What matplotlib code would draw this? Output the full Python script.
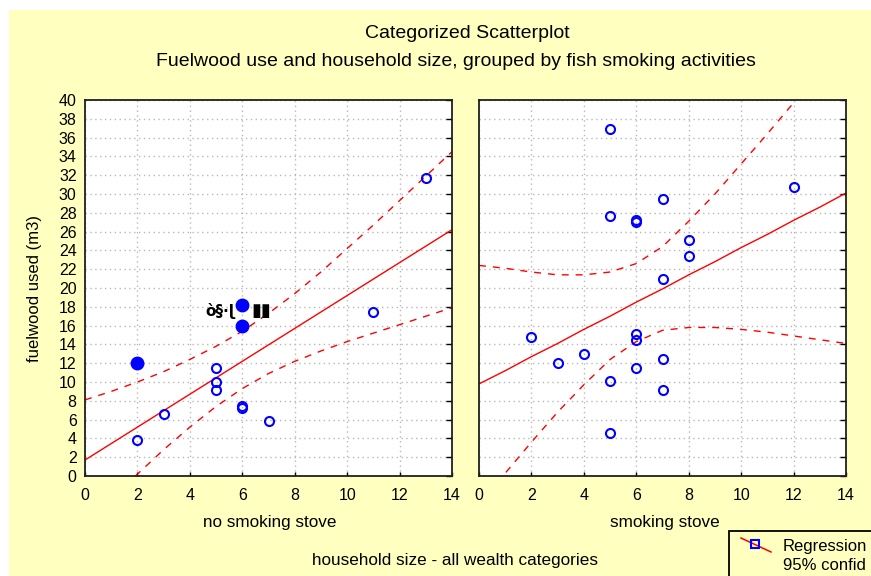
#!/usr/bin/env python3
"""Categorized scatterplot: fuelwood use vs household size, split by
whether the household has a fish smoking stove. Each panel carries its
regression line and 95% confidence band."""
import matplotlib
matplotlib.use("Agg")
import matplotlib.pyplot as plt
from matplotlib.patches import Rectangle
from matplotlib.lines import Line2D

plt.rcParams["font.family"] = ["Liberation Sans", "DejaVu Sans"]

# households without a smoking stove
NO_STOVE_X = [2, 3, 5, 5, 5, 6, 6, 7, 11, 13]
NO_STOVE_Y = [3.8, 6.6, 11.5, 10.0, 9.2, 7.5, 7.2, 5.8, 17.5, 31.7]
# highlighted households in the same group
NO_STOVE_MARK_X = [2, 6, 6]
NO_STOVE_MARK_Y = [12.0, 18.2, 16.0]

# households with a smoking stove
STOVE_X = [5, 7, 12, 5, 6, 6, 8, 8, 7, 2, 6, 6, 4, 3, 7, 6, 5, 7, 5]
STOVE_Y = [36.9, 29.5, 30.7, 27.7, 27.2, 27.0, 25.1, 23.4, 21.0, 14.8,
           15.1, 14.5, 13.0, 12.0, 12.5, 11.5, 10.1, 9.2, 4.6]

# fitted line and 95% band, sampled at each household size
FIT_X = [0, 1, 2, 3, 4, 5, 6, 7, 8, 9, 10, 11, 12, 13, 14]
NO_STOVE_FIT = [1.7, 3.45, 5.2, 6.95, 8.7, 10.45, 12.2, 13.95, 15.7, 17.45,
                19.2, 20.95, 22.7, 24.45, 26.2]
NO_STOVE_UPPER = [8.1, 9.0, 10.0, 11.1, 12.4, 13.8, 15.4, 17.3, 19.4, 21.7,
                  24.2, 26.7, 29.3, 31.9, 34.5]
NO_STOVE_LOWER = [-5.1, -2.4, 0.2, 2.8, 5.2, 7.4, 9.3, 10.9, 12.2, 13.3,
                  14.3, 15.2, 16.1, 17.0, 17.9]
STOVE_FIT = [9.8, 11.2, 12.7, 14.1, 15.6, 17.0, 18.5, 19.9, 21.4, 22.8,
             24.3, 25.7, 27.2, 28.6, 30.1]
STOVE_UPPER = [22.4, 22.1, 21.7, 21.4, 21.4, 21.7, 22.6, 24.4, 27.1, 30.0,
               33.2, 36.4, 39.7, 43.0, 46.4]
STOVE_LOWER = [-3.0, 0.3, 3.6, 6.8, 9.7, 12.4, 14.3, 15.5, 15.8, 15.8,
               15.6, 15.3, 14.9, 14.5, 14.1]

X_TICKS = list(range(0, 15, 2))
Y_TICKS = list(range(0, 41, 2))

BG = "#ffffc0"
BLUE = "#0000ff"
RED = "#ff0000"
W, H = 871, 576


def px(x, y):
    return x / W, 1 - y / H


fig = plt.figure(figsize=(W / 100, H / 100), dpi=100)
fig.patch.set_facecolor("white")
fig.patches.append(Rectangle(px(9, 576), 1, (576 - 10) / H,
                             transform=fig.transFigure, facecolor=BG,
                             edgecolor="none", zorder=-10))


def make_panel(left, show_ylabels):
    ax = fig.add_axes([left / W, 1 - 476 / H, 367 / W, 376 / H])
    ax.set_facecolor("white")
    ax.set_xlim(0, 14)
    ax.set_ylim(0, 40)
    ax.set_xticks(X_TICKS)
    ax.set_yticks(Y_TICKS)
    ax.grid(True, color="#b8b8b8", linestyle=(0, (1, 2.5)), linewidth=1)
    ax.set_axisbelow(True)
    ax.tick_params(axis="y", which="both", direction="in", left=False,
                   right=True, length=4, width=1, labelsize=11.5, pad=6,
                   labelleft=show_ylabels)
    ax.tick_params(axis="x", direction="in", length=3, width=1,
                   labelsize=11.5, pad=9)
    for s in ax.spines.values():
        s.set_color("#202020")
        s.set_linewidth(1.3)
    return ax


def draw_fit(ax, fit, upper, lower):
    ax.plot(FIT_X, fit, color=RED, linewidth=1.0, zorder=2)
    for band in (upper, lower):
        ax.plot(FIT_X, band, color=RED, linewidth=1.0,
                linestyle=(0, (5, 5)), zorder=2)


ax1 = make_panel(85, True)
draw_fit(ax1, NO_STOVE_FIT, NO_STOVE_UPPER, NO_STOVE_LOWER)
ax1.text(4.58, 17.55, "ò§·ɭ", fontsize=11, fontweight="bold",
         va="center", ha="left", family="DejaVu Sans", zorder=3)
ax1.text(6.35, 17.55, "\u25ae\u25ae", fontsize=13, fontweight="bold",
         va="center", ha="left", family="DejaVu Sans", zorder=3)
ax1.plot(NO_STOVE_X, NO_STOVE_Y, "o", markersize=6.5, mfc="none",
         mec=BLUE, mew=1.5, zorder=4)
ax1.plot(NO_STOVE_MARK_X, NO_STOVE_MARK_Y, "o", markersize=9,
         color=BLUE, zorder=4)

ax2 = make_panel(479, False)
draw_fit(ax2, STOVE_FIT, STOVE_UPPER, STOVE_LOWER)
ax2.plot(STOVE_X, STOVE_Y, "o", markersize=6.5, mfc="none",
         mec=BLUE, mew=1.5, zorder=4)

fig.text(*px(467, 33), "Categorized Scatterplot", fontsize=14,
         ha="center", va="center")
fig.text(*px(456, 62),
         "Fuelwood use and household size, grouped by fish smoking activities",
         fontsize=14, ha="center", va="center")
fig.text(*px(35, 288), "fuelwood used (m3)", fontsize=12, rotation=90,
         ha="center", va="center")
fig.text(*px(270, 523), "no smoking stove", fontsize=12.3,
         ha="center", va="center")
fig.text(*px(665, 523), "smoking stove", fontsize=12.3,
         ha="center", va="center")
fig.text(*px(455, 560), "household size - all wealth categories",
         fontsize=12.3, ha="center", va="center")

# legend box running off the lower right corner
fig.patches.append(Rectangle(px(729, 600), 200 / W, 69 / H,
                             transform=fig.transFigure, facecolor="none",
                             edgecolor="black", linewidth=1.3))
lx0, ly0 = px(741, 538)
lx1, ly1 = px(771, 552)
fig.lines.append(Line2D([lx0, lx1], [ly0, ly1], transform=fig.transFigure,
                        color=RED, linewidth=1.1))
mx, my = px(755, 544)
fig.lines.append(Line2D([mx], [my], transform=fig.transFigure, marker="s",
                        markersize=6, mfc="none", mec=BLUE, mew=1.5))
fig.text(*px(783, 546), "Regression", fontsize=12, ha="left", va="center")
fig.text(*px(783, 566), "95% confid", fontsize=12, ha="left",
         va="center")

fig.savefig("out.png", dpi=100)
